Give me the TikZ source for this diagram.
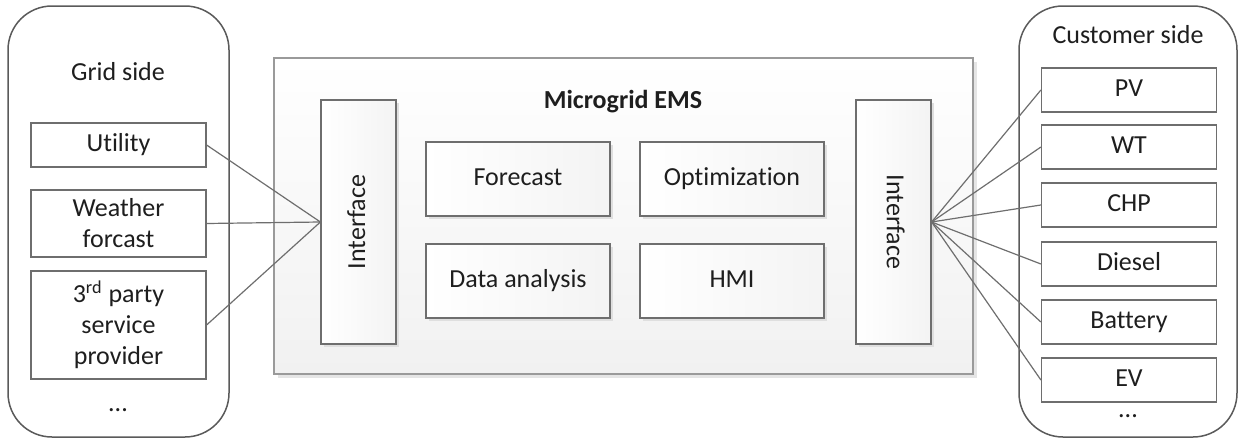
\documentclass[tikz,border=0pt]{standalone}
\usepackage{fontspec}
\setmainfont[Ligatures={NoCommon}]{Carlito}
\usetikzlibrary{shadows}
\definecolor{edge}{HTML}{6E6E6E}
\definecolor{panel}{HTML}{5A5A5A}
\definecolor{frame}{HTML}{9A9A9A}
\definecolor{ink}{HTML}{1E1E1E}
\tikzset{
  txt/.style={font=\fontsize{13}{15.5}\selectfont, text=ink, align=center},
  oneline/.style={text height=9.2pt, text depth=2.6pt},
  sidepanel/.style={draw=panel, line width=0.75pt, rounded corners=22pt, fill=white, inner sep=0pt},
  item/.style={txt, draw=edge, line width=0.6pt, fill=white, inner sep=0pt, minimum width=87.5pt},
  emsbox/.style={draw=frame, line width=0.6pt, top color=white, bottom color=gray!11, inner sep=0pt,
    drop shadow={shadow xshift=2pt, shadow yshift=-2pt, fill=gray!20, opacity=1}},
  module/.style={txt, draw=edge, line width=0.6pt, left color=white, right color=gray!9, inner sep=0pt,
    drop shadow={shadow xshift=1.6pt, shadow yshift=-1.6pt, fill=gray!25, opacity=1}},
  link/.style={draw=edge, line width=0.6pt},
}
\begin{document}
\begin{tikzpicture}[x=0.5pt, y=-0.5pt]
\useasboundingbox (0,0) rectangle (1239,439);

% grid side
\node[sidepanel, minimum width=110.5pt, minimum height=215.5pt] (grid) at (118.5,221.5) {};
\node[txt] (gridt) at (118,72) {Grid side};
\node[item, oneline, minimum height=22pt] (util) at (118.5,145) {Utility};
\node[item, minimum height=33.5pt] (wea) at (118.5,223.5) {Weather\\forcast};
\node[item, minimum height=54pt] (third) at (118.5,325) {3\textsuperscript{rd} party\\service\\provider};
\node[txt] (gdots) at (118,410) {...};

% customer side
\node[sidepanel, minimum width=109pt, minimum height=215.5pt] (cust) at (1128,221.5) {};
\node[txt] (custt) at (1128,35) {Customer side};
\foreach \n/\t/\y in {pv/PV/90, wt/WT/147, chp/CHP/205, die/Diesel/264, bat/Battery/322, ev/EV/380}
  \node[item, oneline, minimum height=22pt] (\n) at (1129,\y) {\t};
\node[txt] (cdots) at (1128,416) {...};

% microgrid EMS
\node[emsbox, minimum width=349.5pt, minimum height=158pt] (ems) at (623.5,216) {};
\node[txt, font=\fontsize{13}{15.5}\selectfont\bfseries] (emst) at (623,102) {Microgrid EMS};
\node[module, minimum width=37.5pt, minimum height=122pt,
      label={[txt, oneline, rotate=90]center:Interface}] (ifl) at (358.5,222) {};
\node[module, minimum width=37.5pt, minimum height=122pt,
      label={[txt, oneline, rotate=-90]center:Interface}] (ifr) at (893.5,222) {};
\node[module, oneline, minimum width=92pt, minimum height=37pt] (fc) at (518,179) {Forecast};
\node[module, oneline, minimum width=92pt, minimum height=37pt] (da) at (518,281) {Data analysis};
\node[module, oneline, minimum width=92pt, minimum height=37pt] (opt) at (732,179) {Optimization};
\node[module, oneline, minimum width=92pt, minimum height=37pt] (hmi) at (732,281) {HMI};

% connections
\foreach \n in {util, wea, third}
  \draw[link] (\n.east) -- (ifl.west);
\foreach \n in {pv, wt, chp, die, bat, ev}
  \draw[link] (ifr.east) -- (\n.west);
\end{tikzpicture}
\end{document}
